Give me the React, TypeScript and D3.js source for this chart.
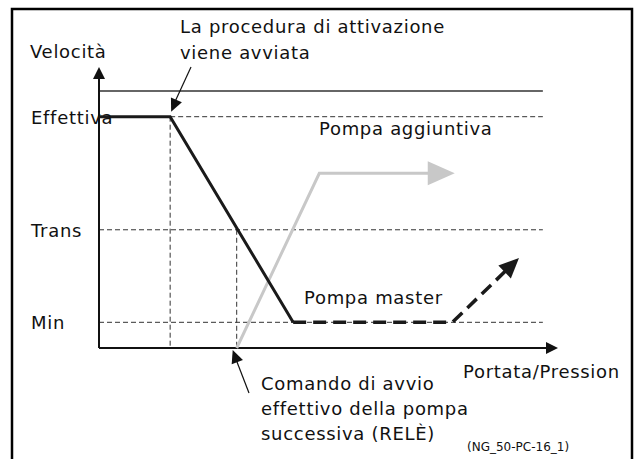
import React from "react";
import * as d3 from "d3";

// levels on the speed axis (% of range)
const levelNames = ["Min", "Trans", "Effettiva"];
const levelValues = [10, 46, 90];
const maxLevel = 100;

// key moments along the flow/pressure axis
const tStart = 0;
const tActivation = 15.5;
const tRelay = 30;
const tMasterMin = 42.3;
const tLevelEnd = 96.7;

// master pump: speed profile
const masterX = [tStart, tActivation, tMasterMin];
const masterY = [90, 90, 10];
// master pump: running at min, then rising again (dashed)
const masterDashX = [tMasterMin, 77, 91.5];
const masterDashY = [10, 10, 35];
// additional pump
const extraX = [tRelay, 48, 77.5];
const extraY = [0, 68, 68];

const width = 640;
const height = 459;
const font = "'DejaVu Sans', Verdana, sans-serif";

type Pt = [number, number];

function arrowHead(tip: Pt, from: Pt, len: number, half: number) {
  const dx = tip[0] - from[0];
  const dy = tip[1] - from[1];
  const d = Math.hypot(dx, dy);
  const ux = dx / d;
  const uy = dy / d;
  const bx = tip[0] - ux * len;
  const by = tip[1] - uy * len;
  return [
    [tip[0], tip[1]],
    [bx - uy * half, by + ux * half],
    [bx + uy * half, by - ux * half],
  ]
    .map((p) => p.join(","))
    .join(" ");
}

// move a tip back along its segment, so the stroke stops under the arrowhead
function trim(tip: Pt, from: Pt, by: number): Pt {
  const d = Math.hypot(tip[0] - from[0], tip[1] - from[1]);
  return [tip[0] - ((tip[0] - from[0]) / d) * by, tip[1] - ((tip[1] - from[1]) / d) * by];
}

export default function App() {
  const x = d3.scaleLinear().domain([0, 100]).range([99, 558]);
  const y = d3.scaleLinear().domain([0, 100]).range([348, 91]);

  const line = d3
    .line<Pt>()
    .x((d) => x(d[0]))
    .y((d) => y(d[1]));
  const pixLine = d3.line<Pt>();

  const master = masterX.map((v, i) => [v, masterY[i]] as Pt);
  const masterDash = masterDashX.map((v, i) => [v, masterDashY[i]] as Pt);
  const extra = extraX.map((v, i) => [v, extraY[i]] as Pt);

  const px = (p: Pt) => [x(p[0]), y(p[1])] as Pt;
  const extraPx = extra.map(px);
  const dashPx = masterDash.map(px);
  const extraTip = extraPx[2];
  const dashTip = dashPx[2];
  const extraEnd = trim(extraTip, extraPx[1], 20);
  const dashEnd = trim(dashTip, dashPx[1], 14);

  const x0 = x(0);
  const yAxis = y(0);
  const yAxisTop = 67;
  const xAxisEnd = x(100);

  const actTip: Pt = [x(tActivation) + 1, y(90) - 5];
  const actFrom: Pt = [191, 67];
  const relTip: Pt = [x(tRelay) - 4, y(0) + 2];
  const relFrom: Pt = [249, 393];

  const textStyle = { fontFamily: font, fontSize: 18, letterSpacing: 0.7, fill: "#111" };

  return (
    <div style={{ position: "absolute", left: 0, top: 0 }}>
      <svg width={width} height={height} style={{ display: "block", background: "#fff" }}>
        <defs>
          <clipPath id="frame">
            <rect x={0} y={0} width={631} height={height} />
          </clipPath>
        </defs>

        {/* frame */}
        <path d={`M12,${height} V9 H632 V${height}`} fill="none" stroke="#000" strokeWidth={2.5} />

        {/* top limit line */}
        <line x1={x0} x2={x(tLevelEnd)} y1={y(maxLevel)} y2={y(maxLevel)} stroke="#333" strokeWidth={1.5} />

        {/* level dashed lines */}
        {levelValues.map((v, i) => (
          <line
            key={levelNames[i]}
            x1={i === 2 ? x(tActivation) : x0}
            x2={x(tLevelEnd)}
            y1={y(v)}
            y2={y(v)}
            stroke="#333"
            strokeWidth={1}
            strokeDasharray="5,3"
          />
        ))}
        {/* vertical dashed guides */}
        <line x1={x(tActivation)} x2={x(tActivation)} y1={y(90)} y2={yAxis} stroke="#333" strokeDasharray="5,3" />
        <line x1={x(tRelay)} x2={x(tRelay)} y1={y(46)} y2={yAxis} stroke="#333" strokeDasharray="5,3" />

        {/* axes */}
        <line x1={x0} x2={x0} y1={yAxis} y2={yAxisTop + 10} stroke="#111" strokeWidth={2} />
        <polygon points={arrowHead([x0, yAxisTop], [x0, yAxis], 12, 6)} fill="#111" />
        <line x1={x0} x2={xAxisEnd - 10} y1={yAxis} y2={yAxis} stroke="#111" strokeWidth={2} />
        <polygon points={arrowHead([xAxisEnd, yAxis], [x0, yAxis], 12, 6)} fill="#111" />

        {/* additional pump */}
        <path d={pixLine([extraPx[0], extraPx[1], extraEnd]) ?? ""} fill="none" stroke="#c8c8c8" strokeWidth={3} />
        <polygon points={arrowHead(extraTip, extraPx[1], 27, 12)} fill="#c8c8c8" />

        {/* master pump */}
        <path d={line(master) ?? ""} fill="none" stroke="#1a1a1a" strokeWidth={3} />
        <path
          d={pixLine([dashPx[0], dashPx[1], dashEnd]) ?? ""}
          fill="none"
          stroke="#1a1a1a"
          strokeWidth={3.5}
          strokeDasharray="13,7"
        />
        <polygon points={arrowHead(dashTip, dashPx[1], 20, 9)} fill="#1a1a1a" />

        {/* annotation arrows */}
        <line x1={actFrom[0]} y1={actFrom[1]} x2={actTip[0] + 2} y2={actTip[1] - 6} stroke="#111" strokeWidth={1.2} />
        <polygon points={arrowHead(actTip, actFrom, 13, 6)} fill="#111" />
        <line x1={relFrom[0]} y1={relFrom[1]} x2={relTip[0] + 2} y2={relTip[1] + 6} stroke="#111" strokeWidth={1.2} />
        <polygon points={arrowHead(relTip, relFrom, 13, 6)} fill="#111" />

        {/* labels */}
        <text x={30} y={58} {...textStyle}>Velocità</text>
        {levelNames.map((n, i) => (
          <text key={n} x={31} y={y(levelValues[i]) + 7} {...textStyle}>
            {n}
          </text>
        ))}
        <text x={180} y={33} {...textStyle}>La procedura di attivazione</text>
        <text x={180} y={59} {...textStyle}>viene avviata</text>
        <text x={319} y={135} {...textStyle}>Pompa aggiuntiva</text>
        <text x={304} y={304} {...textStyle}>Pompa master</text>
        <g clipPath="url(#frame)">
          <text x={463} y={378} {...textStyle}>Portata/Pression</text>
        </g>
        <text x={261} y={390} {...textStyle}>Comando di avvio</text>
        <text x={261} y={415} {...textStyle}>effettivo della pompa</text>
        <text x={261} y={440} {...textStyle}>successiva (RELÈ)</text>
        <text x={467} y={451} fontFamily={font} fontSize={12} fill="#111">(NG_50-PC-16_1)</text>
      </svg>
    </div>
  );
}
